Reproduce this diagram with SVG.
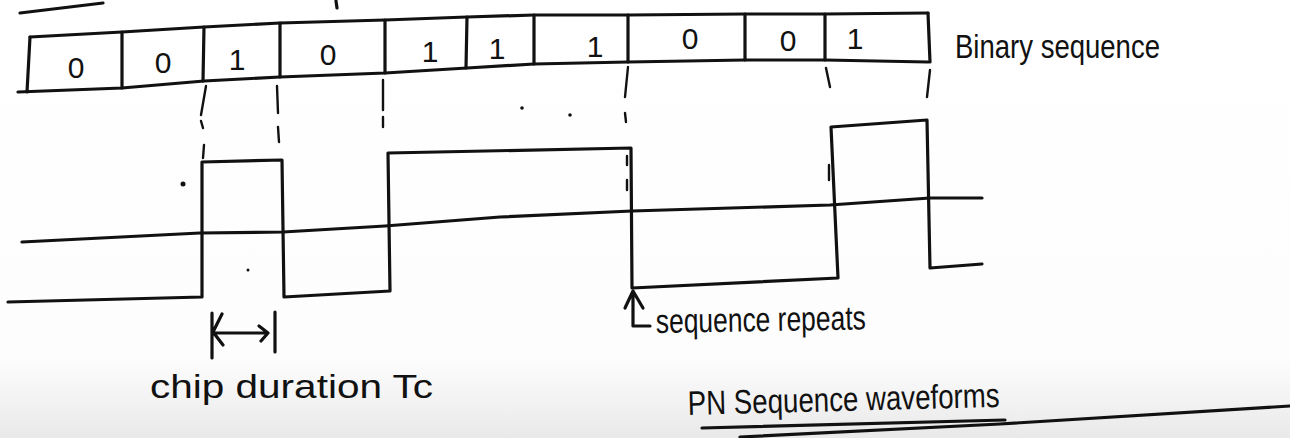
<svg xmlns="http://www.w3.org/2000/svg" width="1290" height="438" viewBox="0 0 1290 438">
  <defs>
    <linearGradient id="paper" x1="0" y1="0" x2="0" y2="1">
      <stop offset="0" stop-color="#ffffff"/>
      <stop offset="0.82" stop-color="#fdfdfd"/>
      <stop offset="1" stop-color="#e9e9e9"/>
    </linearGradient>
    <style>
      .ink { fill: none; stroke: #111; stroke-width: 3.2; stroke-linecap: round; stroke-linejoin: round; }
      .thin { fill: none; stroke: #111; stroke-width: 2.4; stroke-linecap: round; stroke-linejoin: round; }
      .dot { fill: #111; }
      .bit { font-family: "Liberation Sans", Arial, sans-serif; font-size: 30px; fill: #111; text-anchor: middle; }
      .label { font-family: "Liberation Sans", Arial, sans-serif; font-size: 34px; fill: #111; }
    </style>
  </defs>

  <rect width="1290" height="438" fill="url(#paper)"/>

  <!-- stray strokes at the top edge -->
  <path class="ink" d="M20 13 L103 3"/>
  <path class="ink" d="M336 1 L337 8"/>

  <!-- binary sequence register: ten cells -->
  <g id="binary-sequence">
    <path class="ink" d="M30 37 L122 32 L204 27 L280 23 L385 20 L467 17 L534 15 L628 15 L745 14 L825 14 L928 13"/>
    <path class="ink" d="M18 92 L122 88 L204 81 L280 77 L385 73 L467 68 L534 64 L628 62 L745 60 L825 60 L928 62"/>
    <path class="ink" d="M30 37 L27 92 M122 32 L122 88 M204 27 L203 81 M280 23 L280 77 M385 20 L385 73 M467 17 L466 68 M534 15 L534 64 M628 15 L628 62 M745 14 L745 60 M825 14 L825 60 M928 13 L930 62"/>
    <text class="bit" x="76" y="78">0</text>
    <text class="bit" x="163" y="73">0</text>
    <text class="bit" x="237" y="70">1</text>
    <text class="bit" x="328" y="65">0</text>
    <text class="bit" x="430" y="62">1</text>
    <text class="bit" x="497" y="59">1</text>
    <text class="bit" x="595" y="57">1</text>
    <text class="bit" x="690" y="49">0</text>
    <text class="bit" x="788" y="51">0</text>
    <text class="bit" x="855" y="49">1</text>
  </g>

  <g id="binary-sequence-label">
    <text class="label" x="955" y="58" font-size="38" textLength="205" lengthAdjust="spacingAndGlyphs">Binary sequence</text>
  </g>

  <!-- time axis -->
  <g id="axis">
    <path class="ink" d="M22 242 L200 233 L283 232 L385 226 L500 217 L632 211 L830 205 L930 198 L982 198"/>
  </g>

  <!-- PN waveform -->
  <g id="pn-waveform">
    <path class="ink" d="M8 302 L202 297 L202 162 L282 160 L284 297 L390 291 L388 153 L631 148 L632 288 L838 278 L831 127 L927 120 L930 268 L982 264"/>
    <circle class="dot" cx="183" cy="184" r="2.5"/>
    <circle class="dot" cx="248" cy="270" r="1.5"/>
    <circle class="dot" cx="522" cy="108" r="1.8"/>
    <circle class="dot" cx="570" cy="115" r="1.8"/>
  </g>

  <!-- guide lines and pointers -->
  <g id="connectors">
    <path class="thin" d="M206 86 L201 115 M201 121 L203 128 M204 145 L203 158"/>
    <path class="thin" d="M277 86 L278 113 M278 127 L279 142"/>
    <path class="thin" d="M383 80 L383 110 M383 117 L383 127"/>
    <path class="thin" d="M628 67 L625 97 M625 113 L626 122 M627 156 L627 165 M627 180 L627 190"/>
    <path class="thin" d="M826 68 L830 87 M829 165 L829 180"/>
    <path class="thin" d="M930 70 L927 97"/>
    <!-- chip duration marker -->
    <path class="ink" d="M212 313 L212 358 M222 314 L213 332 L223 345 M213 333 L265 333 M259 326 L268 333 L261 341 M275 312 L275 352"/>
    <!-- sequence repeats pointer -->
    <path class="ink" d="M625 308 L633 291 L643 308 M633 291 L633 326 L650 326"/>
  </g>

  <g id="chip-duration-label">
    <text class="label" x="150" y="398" font-size="36" textLength="283" lengthAdjust="spacingAndGlyphs">chip duration Tc</text>
  </g>

  <g id="sequence-repeats-label">
    <text class="label" x="656" y="333" textLength="210" lengthAdjust="spacingAndGlyphs" transform="rotate(-1 656 333)">sequence repeats</text>
  </g>

  <g id="caption">
    <text class="label" x="688" y="415" textLength="312" lengthAdjust="spacingAndGlyphs" transform="rotate(-1.5 688 415)">PN Sequence waveforms</text>
    <path class="ink" d="M702 428 L1005 420"/>
    <path class="ink" d="M740 437 L1000 424 L1290 406"/>
  </g>
</svg>
